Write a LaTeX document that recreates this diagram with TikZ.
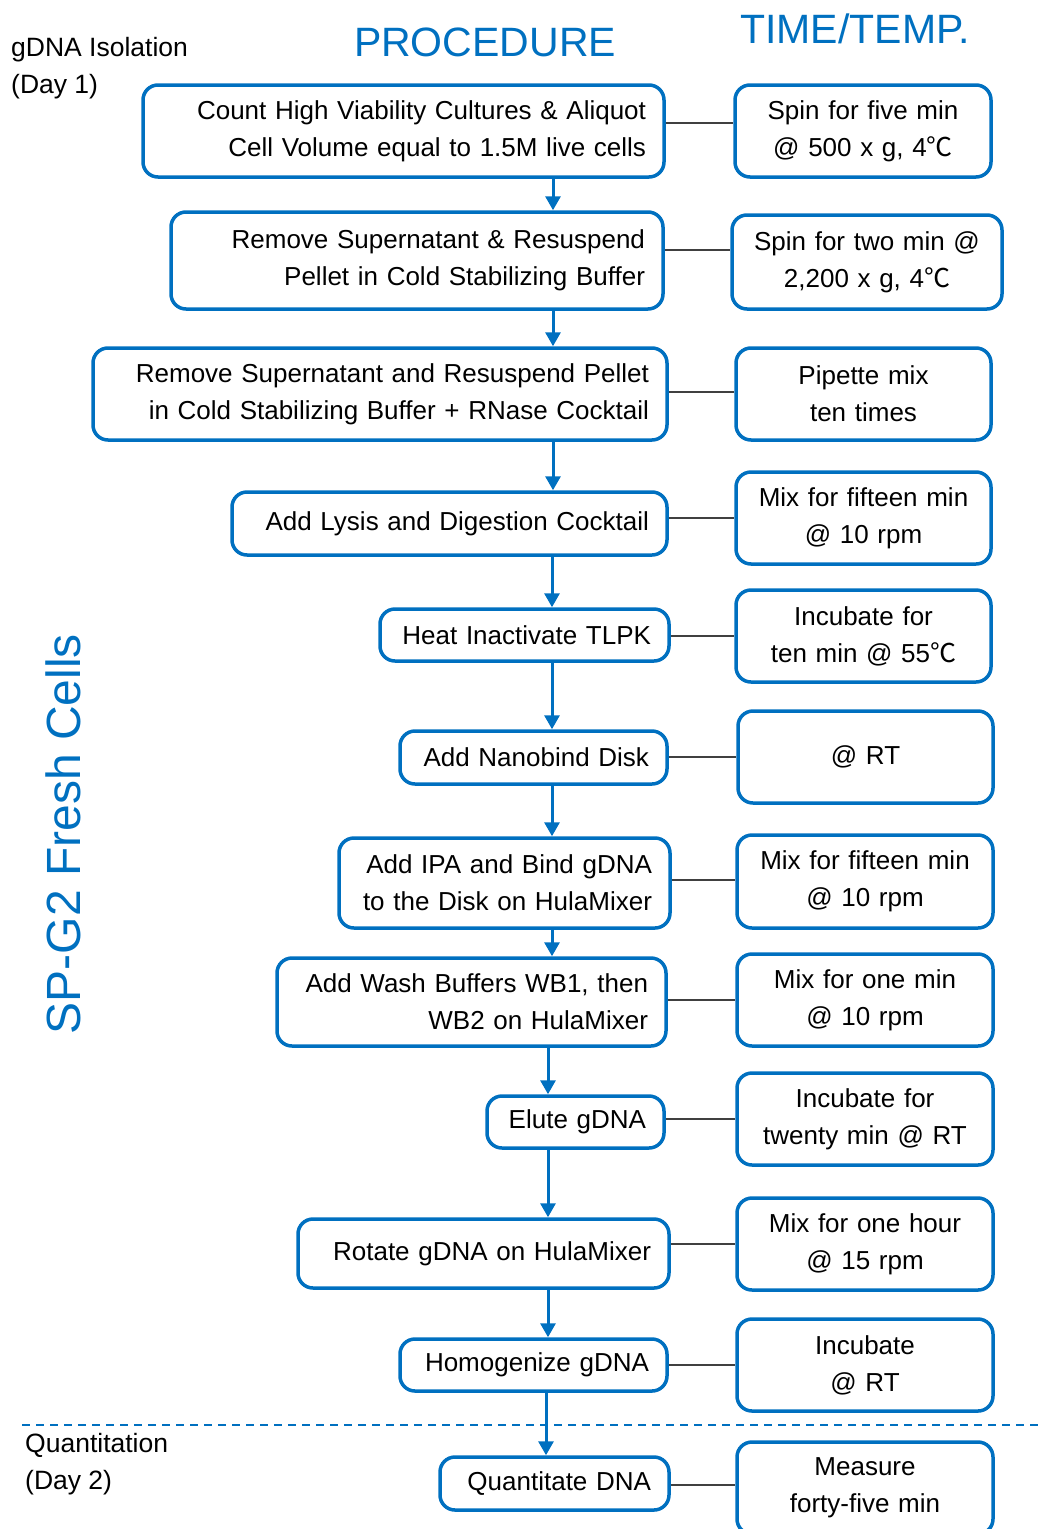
\documentclass[tikz,border=0pt]{standalone}
\usepackage{fontspec}
\setmainfont{Liberation Sans}
\newfontfamily\cjk{Noto Sans CJK SC}
\usetikzlibrary{arrows.meta}
\definecolor{mblue}{RGB}{0,112,192}
\definecolor{lgray}{RGB}{64,64,64}
\newcommand{\degC}{{\cjk ℃}}
\tikzset{
  pbox/.style={draw=mblue, line width=3.5pt, rounded corners=15pt, inner xsep=18pt, inner ysep=0pt, align=right, font=\fontsize{26}{37}\selectfont},
  tbox/.style={draw=mblue, line width=3.5pt, rounded corners=15pt, inner xsep=8pt, inner ysep=0pt, align=center, font=\fontsize{26}{37}\selectfont, minimum height=96pt},
  conn/.style={draw=lgray, line width=2pt},
  arr/.style={draw=mblue, line width=3pt, -{Triangle[width=15pt,length=14pt]}},
  hdr/.style={text=mblue, font=\fontsize{41}{41}\selectfont, anchor=base, inner sep=0pt},
  side/.style={font=\fontsize{26.5}{26.5}\selectfont, anchor=base west, inner sep=0pt},
}
\begin{document}
\hyphenpenalty=10000
\exhyphenpenalty=10000
\begin{tikzpicture}[x=1pt,y=-1pt]
\useasboundingbox (0,0) rectangle (1039,1529);
\clip (0,0) rectangle (1039,1529);

% headers
\node[hdr] (h1) at (485,56) {PROCEDURE};
\node[hdr] (h2) at (855,43) {TIME/TEMP.};
\node[side] (s1) at (11,56) {gDNA Isolation};
\node[side] (s2) at (11,93) {(Day 1)};
\node[side] (s3) at (25,1452) {Quantitation};
\node[side] (s4) at (25,1489) {(Day 2)};
\node[text=mblue, font=\fontsize{48}{48}\selectfont, rotate=90, inner sep=0pt] (vt) at (63,834) {SP-G2 Fresh Cells};

% procedure boxes
\node[pbox, minimum width=521pt, text width=485pt, minimum height=92pt] (p1) at (403.5,131) {Count High Viability Cultures \& Aliquot\\Cell Volume equal to 1.5M live cells};
\node[pbox, minimum width=492pt, text width=456pt, minimum height=97pt] (p2) at (417,260.5) {Remove Supernatant \& Resuspend\\Pellet in Cold Stabilizing Buffer};
\node[pbox, minimum width=574pt, text width=538pt, minimum height=92pt] (p3) at (380,394) {Remove Supernatant and Resuspend Pellet\\in Cold Stabilizing Buffer + RNase Cocktail};
\node[pbox, minimum width=435pt, text width=399pt, minimum height=63pt] (p4) at (449.5,523.5) {Add Lysis and Digestion Cocktail};
\node[pbox, minimum width=289pt, text width=253pt, minimum height=52pt] (p5) at (524.5,635) {Heat Inactivate TLPK};
\node[pbox, minimum width=267pt, text width=231pt, minimum height=53pt] (p6) at (533.5,757.5) {Add Nanobind Disk};
\node[pbox, minimum width=331pt, text width=295pt, minimum height=90pt] (p7) at (504.5,883) {Add IPA and Bind gDNA\\to the Disk on HulaMixer};
\node[pbox, minimum width=389pt, text width=353pt, minimum height=88pt] (p8) at (471.5,1002) {Add Wash Buffers WB1, then\\WB2 on HulaMixer};
\node[pbox, minimum width=177pt, text width=141pt, minimum height=52pt] (p9) at (575.5,1122) {Elute gDNA};
\node[pbox, minimum width=371pt, text width=335pt, minimum height=69pt] (p10) at (483.5,1253.5) {Rotate gDNA on HulaMixer};
\node[pbox, minimum width=267pt, text width=231pt, minimum height=52pt] (p11) at (533.5,1365) {Homogenize gDNA};
\node[pbox, minimum width=229pt, text width=193pt, minimum height=53pt] (p12) at (554.5,1483.5) {Quantitate DNA};

% time/temp boxes
\node[tbox, minimum width=256pt, text width=240pt, minimum height=92pt] (t1) at (863,131) {Spin for five min\\@ 500 x g, 4\degC};
\node[tbox, minimum width=270pt, text width=254pt, minimum height=94pt] (t2) at (867,262) {Spin for two min @\\2,200 x g, 4\degC};
\node[tbox, minimum width=255pt, text width=239pt, minimum height=92pt] (t3) at (863.5,394) {Pipette mix\\ten times};
\node[tbox, minimum width=255pt, text width=239pt, minimum height=92pt] (t4) at (863.5,518) {Mix for fifteen min\\@ 10 rpm};
\node[tbox, minimum width=255pt, text width=239pt, minimum height=92pt] (t5) at (863.5,636) {Incubate for\\ten min @ 55\degC};
\node[tbox, minimum width=255pt, text width=239pt, minimum height=92pt] (t6) at (865.5,757) {@ RT};
\node[tbox, minimum width=256pt, text width=240pt, minimum height=93pt] (t7) at (865,881.5) {Mix for fifteen min\\@ 10 rpm};
\node[tbox, minimum width=256pt, text width=240pt, minimum height=92pt] (t8) at (865,1000) {Mix for one min\\@ 10 rpm};
\node[tbox, minimum width=256pt, text width=240pt, minimum height=92pt] (t9) at (865,1119) {Incubate for\\twenty min @ RT};
\node[tbox, minimum width=256pt, text width=240pt, minimum height=92pt] (t10) at (865,1244) {Mix for one hour\\@ 15 rpm};
\node[tbox, minimum width=256pt, text width=240pt, minimum height=92pt] (t11) at (865,1365) {Incubate\\@ RT};
\node[tbox, minimum width=256pt, text width=240pt, minimum height=92pt] (t12) at (865,1488) {Measure\\forty-five min};

% connectors
\draw[conn] ([yshift=8pt]p1.east) -- ([yshift=8pt]p1.east -| t1.west);
\draw[conn] ([yshift=10.5pt]p2.east) -- ([yshift=10.5pt]p2.east -| t2.west);
\draw[conn] ([yshift=2pt]p3.east) -- ([yshift=2pt]p3.east -| t3.west);
\draw[conn] (t4.west -| p4.east) -- (t4.west);
\draw[conn] (t5.west -| p5.east) -- (t5.west);
\draw[conn] (t6.west -| p6.east) -- (t6.west);
\draw[conn] ([yshift=1.5pt]t7.west -| p7.east) -- ([yshift=1.5pt]t7.west);
\draw[conn] (t8.west -| p8.east) -- (t8.west);
\draw[conn] (t9.west -| p9.east) -- (t9.west);
\draw[conn] (t10.west -| p10.east) -- (t10.west);
\draw[conn] (t11.west -| p11.east) -- (t11.west);
\draw[conn] ([yshift=3pt]t12.west -| p12.east) -- ([yshift=3pt]t12.west);

% arrows
\coordinate (xa) at (553,0);
\coordinate (xb) at (552,0);
\coordinate (xc) at (548,0);
\coordinate (xd) at (546,0);
\draw[arr] (p1.south -| xa) -- (p2.north -| xa);
\draw[arr] (p2.south -| xa) -- (p3.north -| xa);
\draw[arr] (p3.south -| xa) -- (p4.north -| xa);
\draw[arr] (p4.south -| xb) -- (p5.north -| xb);
\draw[arr] (p5.south -| xb) -- (p6.north -| xb);
\draw[arr] (p6.south -| xb) -- (p7.north -| xb);
\draw[arr] (p7.south -| xb) -- (p8.north -| xb);
\draw[arr] (p8.south -| xc) -- (p9.north -| xc);
\draw[arr] (p9.south -| xc) -- (p10.north -| xc);
\draw[arr] (p10.south -| xc) -- (p11.north -| xc);
\draw[arr] (p11.south -| xd) -- (p12.north -| xd);

% divider
\coordinate (dl) at (22,1425);
\coordinate (dr) at (1039,1425);
\draw[mblue, line width=2pt, dash pattern=on 8pt off 6pt] (dl) -- (dr);
\end{tikzpicture}
\end{document}
